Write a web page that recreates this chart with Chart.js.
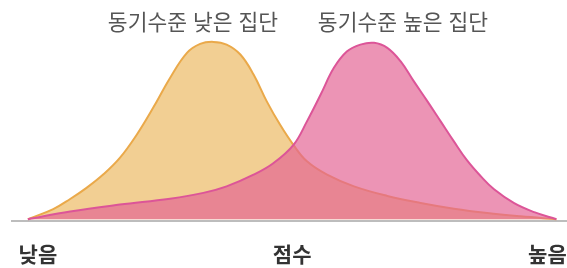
<!DOCTYPE html>
<html lang="ko">
<head>
<meta charset="utf-8">
<script src="https://cdn.jsdelivr.net/npm/chart.js@4.4.1/dist/chart.umd.min.js"></script>
<style>
  body { margin: 0; background: #fff; }
  #wrap { position: relative; width: 567px; height: 268px; }
  .grp { position: absolute; top: 5px; transform: translateX(-50%); white-space: nowrap;
         font: 21.5px 'Noto Sans CJK KR', sans-serif; color: #555; }
</style>
</head>
<body>
<div id="wrap">
  <canvas id="c"></canvas>
  <div class="grp" id="tLow" style="left:193px"></div>
  <div class="grp" id="tHigh" style="left:403px"></div>
</div>
<script>
// group names + axis words
const groupNames = ['동기수준 낮은 집단', '동기수준 높은 집단'];
const axisLabels = ['낮음', '점수', '높음'];
const axisLabelAt = [1.9, 50, 98.3];

// low motivation group (score 0-100, relative density)
const lowX = [0, 4.8, 8.0, 11.1, 14.3, 17.4, 20.6, 23.7, 26.9, 30.1, 32.6, 35.1, 37.6, 40.2, 42.7, 45.2, 47.7, 50.2, 52.8, 56.6, 61.7, 68.0, 74.3, 80.6, 86.9, 93.2, 100];
const lowY = [0, 5.6, 11.2, 17.4, 24.9, 34.0, 46.9, 61.8, 78.4, 92.3, 97.3, 98.4, 96.9, 91.4, 80.3, 65.4, 52.5, 41.4, 32.1, 24.7, 18.2, 12.9, 9.0, 5.8, 3.4, 1.6, 0];

// high motivation group
const highX = [0, 8.0, 17.4, 26.9, 33.2, 37.6, 42.7, 46.5, 50.3, 52.8, 55.4, 57.9, 60.4, 62.9, 65.5, 68.0, 70.5, 73.0, 75.6, 78.1, 80.6, 83.1, 85.7, 88.2, 92.0, 95.8, 100];
const highY = [0, 4.3, 8.1, 11.4, 14.6, 18.2, 24.7, 31.2, 41.4, 54.3, 69.2, 84.0, 93.2, 96.9, 97.9, 95.1, 87.7, 76.6, 65.4, 54.3, 43.2, 32.6, 23.8, 16.6, 8.9, 3.9, 0];

document.getElementById('tLow').textContent = groupNames[0];
document.getElementById('tHigh').textContent = groupNames[1];

const pts = (xs, ys) => xs.map((x, i) => ({ x: x, y: ys[i] }));

new Chart(document.getElementById('c'), {
  type: 'line',
  data: {
    datasets: [
      // first dataset is drawn on top
      { label: groupNames[1], data: pts(highX, highY),
        borderColor: '#dc5598', borderWidth: 2,
        backgroundColor: 'rgba(227,100,148,0.69)', fill: 'origin' },
      { label: groupNames[0], data: pts(lowX, lowY),
        borderColor: '#eaa94a', borderWidth: 2,
        backgroundColor: '#f2cf93', fill: 'origin' }
    ]
  },
  options: {
    responsive: true,
    maintainAspectRatio: false,
    animation: false,
    layout: { padding: { left: 12, right: 0, top: 39, bottom: 0 } },
    elements: {
      point: { radius: 0 },
      line: { tension: 0.4, capBezierPoints: true }
    },
    plugins: { legend: { display: false }, tooltip: { enabled: false } },
    scales: {
      x: {
        type: 'linear', min: -3, max: 102,
        grid: { display: false, drawTicks: false },
        border: { display: true, color: '#bdbdbd', width: 2 },
        afterBuildTicks: ax => { ax.ticks = axisLabelAt.map(v => ({ value: v })); },
        afterFit: ax => { ax.height = 47; ax.paddingLeft = 0; ax.paddingRight = 0; },
        ticks: {
          autoSkip: false, maxRotation: 0, padding: 20,
          color: '#333',
          font: { family: "'Noto Sans CJK KR', sans-serif", size: 21, weight: 'bold' },
          callback: (v, i) => axisLabels[i]
        }
      },
      y: { display: false, min: -1, max: 100 }
    }
  }
});
</script>
</body>
</html>
